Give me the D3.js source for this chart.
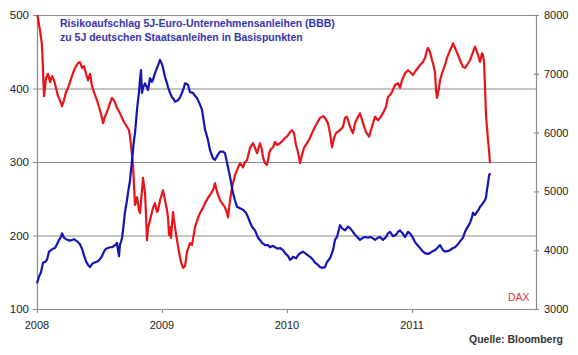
<!DOCTYPE html>
<html><head><meta charset="utf-8">
<script src="https://cdn.jsdelivr.net/npm/d3@7/dist/d3.min.js"></script>
<style>
html,body{margin:0;padding:0;background:#fff;}
svg{display:block;font-family:"Liberation Sans",Arial,sans-serif;}
</style></head>
<body><svg id="c" width="578" height="355"></svg>
<script>
// ---- data (time in decimal years) ----
const daxTime = [2008.000,2008.008,2008.016,2008.024,2008.032,2008.040,2008.048,2008.056,2008.064,2008.072,2008.088,2008.104,2008.120,2008.136,2008.152,2008.168,2008.184,2008.200,2008.216,2008.232,2008.248,2008.264,2008.280,2008.296,2008.312,2008.328,2008.344,2008.360,2008.376,2008.392,2008.408,2008.424,2008.440,2008.456,2008.480,2008.504,2008.520,2008.528,2008.544,2008.560,2008.584,2008.600,2008.616,2008.640,2008.664,2008.680,2008.696,2008.720,2008.736,2008.744,2008.752,2008.760,2008.768,2008.776,2008.784,2008.800,2008.816,2008.824,2008.840,2008.848,2008.864,2008.872,2008.880,2008.888,2008.904,2008.920,2008.928,2008.944,2008.960,2008.968,2008.984,2008.992,2009.008,2009.024,2009.040,2009.048,2009.056,2009.064,2009.072,2009.088,2009.104,2009.120,2009.136,2009.152,2009.168,2009.184,2009.200,2009.224,2009.240,2009.264,2009.288,2009.304,2009.328,2009.344,2009.368,2009.384,2009.408,2009.424,2009.440,2009.464,2009.480,2009.504,2009.520,2009.528,2009.544,2009.560,2009.584,2009.608,2009.624,2009.648,2009.664,2009.680,2009.704,2009.728,2009.744,2009.760,2009.784,2009.800,2009.808,2009.824,2009.840,2009.856,2009.864,2009.888,2009.904,2009.920,2009.944,2009.968,2009.984,2010.000,2010.024,2010.040,2010.056,2010.072,2010.088,2010.104,2010.120,2010.136,2010.160,2010.184,2010.200,2010.224,2010.240,2010.264,2010.288,2010.304,2010.328,2010.344,2010.360,2010.376,2010.392,2010.424,2010.448,2010.464,2010.480,2010.504,2010.528,2010.544,2010.568,2010.584,2010.608,2010.632,2010.656,2010.680,2010.704,2010.728,2010.744,2010.768,2010.792,2010.808,2010.824,2010.840,2010.864,2010.888,2010.904,2010.920,2010.944,2010.968,2010.984,2011.008,2011.032,2011.048,2011.064,2011.088,2011.104,2011.120,2011.128,2011.144,2011.160,2011.168,2011.184,2011.192,2011.200,2011.216,2011.224,2011.248,2011.264,2011.280,2011.304,2011.320,2011.328,2011.352,2011.368,2011.384,2011.408,2011.424,2011.440,2011.464,2011.480,2011.488,2011.504,2011.520,2011.528,2011.544,2011.560,2011.568,2011.576,2011.584,2011.592,2011.600,2011.608,2011.616,2011.624];
const daxValue = [8000,7950,7830,7740,7610,7490,7060,6620,6760,6930,7000,6860,6960,6890,6760,6620,6550,6450,6550,6690,6760,6860,6960,7060,7130,7180,7200,7100,7130,7000,6890,7000,6790,6690,6550,6380,6250,6160,6280,6350,6500,6590,6550,6420,6330,6250,6180,6100,6040,5940,5790,5620,5450,5110,4770,4900,4680,4630,5020,5230,4970,4600,4170,4380,4510,4650,4720,4800,4650,4680,4850,4900,5020,4850,4680,4560,4260,4390,4210,4650,4390,4170,3970,3800,3700,3730,3970,4120,4090,4390,4550,4630,4720,4800,4890,4940,5020,5140,4990,4850,4800,4730,4630,4560,4850,5070,5280,5400,5480,5410,5500,5530,5740,5820,5740,5650,5820,5700,5580,5480,5450,5620,5700,5750,5840,5790,5820,5870,5910,5930,6010,6040,5990,5790,5670,5480,5620,5740,5820,5910,5990,6100,6160,6250,6280,6250,6160,5990,5750,5910,5990,6040,6100,6250,6270,6100,5990,6160,6270,6330,6160,6010,5930,6100,6270,6210,6250,6330,6440,6610,6640,6690,6810,6840,6760,6890,7010,7060,7030,6980,7060,7100,7150,7200,7270,7400,7440,7370,7230,7180,7030,6720,6590,6760,6890,7060,7150,7270,7400,7470,7520,7400,7320,7230,7120,7100,7150,7230,7320,7370,7460,7370,7320,7200,7350,7320,7200,6780,6300,6080,5870,5700,5480];

const spreadTime = [2008.000,2008.016,2008.032,2008.048,2008.064,2008.080,2008.096,2008.112,2008.128,2008.144,2008.160,2008.176,2008.192,2008.200,2008.216,2008.232,2008.248,2008.264,2008.280,2008.296,2008.312,2008.328,2008.344,2008.360,2008.376,2008.392,2008.408,2008.424,2008.440,2008.456,2008.472,2008.488,2008.504,2008.520,2008.536,2008.552,2008.568,2008.584,2008.600,2008.616,2008.632,2008.640,2008.648,2008.656,2008.664,2008.672,2008.680,2008.688,2008.704,2008.720,2008.728,2008.744,2008.752,2008.768,2008.776,2008.784,2008.800,2008.808,2008.816,2008.824,2008.832,2008.840,2008.848,2008.864,2008.880,2008.888,2008.904,2008.920,2008.928,2008.944,2008.960,2008.976,2008.984,2009.000,2009.008,2009.024,2009.040,2009.048,2009.064,2009.080,2009.088,2009.104,2009.128,2009.144,2009.160,2009.176,2009.184,2009.200,2009.208,2009.224,2009.248,2009.264,2009.280,2009.304,2009.320,2009.344,2009.368,2009.384,2009.408,2009.424,2009.448,2009.464,2009.488,2009.504,2009.528,2009.544,2009.568,2009.584,2009.600,2009.624,2009.648,2009.672,2009.688,2009.704,2009.720,2009.744,2009.768,2009.784,2009.800,2009.824,2009.848,2009.864,2009.888,2009.904,2009.928,2009.944,2009.968,2009.984,2010.008,2010.024,2010.040,2010.048,2010.072,2010.088,2010.104,2010.128,2010.152,2010.184,2010.208,2010.224,2010.248,2010.264,2010.280,2010.304,2010.320,2010.344,2010.360,2010.368,2010.384,2010.400,2010.424,2010.440,2010.464,2010.488,2010.504,2010.528,2010.544,2010.568,2010.584,2010.608,2010.624,2010.648,2010.664,2010.680,2010.704,2010.728,2010.744,2010.768,2010.792,2010.808,2010.824,2010.848,2010.872,2010.888,2010.904,2010.928,2010.944,2010.968,2010.984,2011.000,2011.024,2011.048,2011.064,2011.088,2011.104,2011.128,2011.144,2011.168,2011.184,2011.208,2011.224,2011.248,2011.264,2011.288,2011.304,2011.328,2011.344,2011.368,2011.384,2011.408,2011.424,2011.440,2011.464,2011.480,2011.488,2011.504,2011.520,2011.536,2011.544,2011.560,2011.568,2011.584,2011.592,2011.600,2011.608,2011.616,2011.624];
const spreadValue = [135,144,150,163,164,167,178,180,182,183,188,194,198,203,197,195,194,193,194,195,193,191,188,182,173,165,160,157,161,163,164,165,168,172,178,182,183,184,184,186,188,190,180,172,188,191,197,207,232,248,258,275,289,316,330,339,371,384,395,412,425,394,401,407,401,398,414,409,412,421,428,435,439,433,428,416,407,402,394,388,387,382,384,388,394,402,407,406,405,395,394,390,387,378,371,344,330,316,305,303,310,314,314,312,293,280,258,248,239,237,235,231,225,218,212,207,197,194,190,187,187,184,186,184,182,183,180,176,172,167,169,171,169,173,176,178,175,171,167,163,160,157,156,157,164,169,176,180,194,198,214,210,207,212,210,205,201,197,194,197,198,197,198,197,194,197,198,194,198,203,205,199,201,205,207,202,198,205,203,199,191,186,183,178,176,175,176,179,180,184,187,180,178,179,180,183,184,188,192,197,205,210,217,225,231,228,232,236,239,242,244,248,252,262,271,281,285];

const years = [2008, 2009, 2010, 2011];
const leftTicks = [100, 200, 300, 400, 500];
const rightTicks = [3000, 4000, 5000, 6000, 7000, 8000];
const titleLines = ["Risikoaufschlag 5J-Euro-Unternehmensanleihen (BBB)", "zu 5J deutschen Staatsanleihen in Basispunkten"];
const daxLabel = "DAX";
const sourceLabel = "Quelle: Bloomberg";

// ---- layout ----
const L = 37, R = 536, T = 15, B = 309;
const svg = d3.select("#c");
const x = d3.scaleLinear().domain([2008, 2012]).range([L, R + 1]);
const yL = d3.scaleLinear().domain([100, 500]).range([B, T]);
const yR = d3.scaleLinear().domain([3000, 8000]).range([B, T]);

const grid = "#8c8c8c";
const txt = "#222";

svg.append("g").selectAll("line").data(leftTicks).join("line")
  .attr("x1", L - 4).attr("x2", R).attr("y1", d => yL(d) + 0.5).attr("y2", d => yL(d) + 0.5)
  .attr("stroke", grid).attr("stroke-width", 1.2);

svg.append("line").attr("x1", L + 0.5).attr("x2", L + 0.5).attr("y1", T).attr("y2", B + 1).attr("stroke", grid).attr("stroke-width", 1.2);
svg.append("line").attr("x1", R + 0.5).attr("x2", R + 0.5).attr("y1", T).attr("y2", B + 1).attr("stroke", grid).attr("stroke-width", 1.2);

svg.append("g").selectAll("line").data(rightTicks).join("line")
  .attr("x1", R - 2).attr("x2", R + 3).attr("y1", d => yR(d) + 0.5).attr("y2", d => yR(d) + 0.5)
  .attr("stroke", grid).attr("stroke-width", 1.2);

svg.append("g").selectAll("line").data(years).join("line")
  .attr("x1", d => Math.round(x(d)) + 0.5).attr("x2", d => Math.round(x(d)) + 0.5)
  .attr("y1", B).attr("y2", B + 4).attr("stroke", grid).attr("stroke-width", 1.2);

svg.append("g").selectAll("text").data(leftTicks).join("text")
  .attr("x", 29).attr("y", d => yL(d) + 4).attr("text-anchor", "end")
  .attr("font-size", 11.5).attr("fill", txt).text(d => d);
svg.append("g").selectAll("text").data(rightTicks).join("text")
  .attr("x", 544).attr("y", d => yR(d) + 4).attr("text-anchor", "start")
  .attr("font-size", 11).attr("fill", txt).text(d => d);
svg.append("g").selectAll("text").data(years).join("text")
  .attr("x", d => x(d)).attr("y", 329).attr("text-anchor", "middle")
  .attr("font-size", 11).attr("fill", txt).text(d => d);

const dax = daxTime.map((t, i) => [t, daxValue[i]]);
const spread = spreadTime.map((t, i) => [t, spreadValue[i]]);

svg.append("path").datum(dax)
  .attr("d", d3.line().x(d => x(d[0])).y(d => yR(d[1])))
  .attr("fill", "none").attr("stroke", "#e8141a").attr("stroke-width", 2.2).attr("stroke-linejoin", "round");
svg.append("path").datum(spread)
  .attr("d", d3.line().x(d => x(d[0])).y(d => yL(d[1])))
  .attr("fill", "none").attr("stroke", "#1414b4").attr("stroke-width", 2.2).attr("stroke-linejoin", "round");

svg.append("g").selectAll("text").data(titleLines).join("text")
  .attr("x", 60).attr("y", (d, i) => 27 + i * 14)
  .attr("font-size", 10.5).attr("font-weight", "bold").attr("fill", "#3535b0").text(d => d);

svg.append("text").attr("x", 508).attr("y", 301).attr("font-size", 10.5).attr("fill", "#d23c3c").text(daxLabel);
svg.append("text").attr("x", 469).attr("y", 343).attr("font-size", 10.5).attr("font-weight", "bold").attr("fill", "#333").text(sourceLabel);
</script></body></html>
